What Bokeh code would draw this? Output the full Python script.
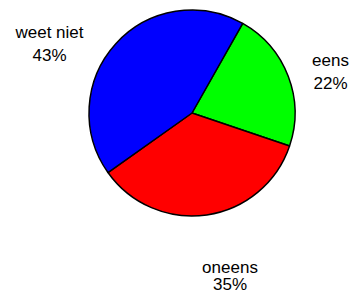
import math
from bokeh.plotting import figure
from bokeh.models import Range1d, ColumnDataSource
from bokeh.core.properties import value
from bokeh.embed import file_html
from bokeh.resources import INLINE

categories = ["eens", "oneens", "weet niet"]
percentages = [22, 35, 43]
colors = ["#00FF00", "#FF0000", "#0000FF"]

# layout (pixel coordinates of the image, y down -> negated)
cx, cy, r = 191.5, -112.5, 103
start_offset_deg = 29.5  # clockwise from 12 o'clock
label_pos = [(330, -60, -82.5), (229.5, -267, -283.5), (49, -32, -55)]

total = sum(percentages)
starts, ends = [], []
acc = start_offset_deg
for v in percentages:
    a0 = math.radians(90 - acc)
    acc += v / total * 360
    a1 = math.radians(90 - acc)
    starts.append(a0)
    ends.append(a1)

src = ColumnDataSource(dict(cat=categories, val=percentages, color=colors,
                            start=starts, end=ends))

p = figure(width=352, height=293, output_backend="svg", toolbar_location=None,
           x_range=Range1d(0, 352), y_range=Range1d(-293, 0),
           min_border=0, outline_line_color=None)
p.axis.visible = False
p.grid.visible = False

p.wedge(x=cx, y=cy, radius=r, start_angle="start", end_angle="end",
        direction="clock", fill_color="color", line_color="black",
        line_width=1.5, source=src)

lx = [lp[0] for lp in label_pos]
ly1 = [lp[1] for lp in label_pos]
ly2 = [lp[2] for lp in label_pos]
p.text(x=lx, y=ly1, text=categories, text_align="center",
       text_baseline="alphabetic", text_font=value("Liberation Sans"),
       text_font_size="17px", text_color="black")
p.text(x=lx, y=ly2, text=[f"{v}%" for v in percentages], text_align="center",
       text_baseline="alphabetic", text_font=value("Liberation Sans"),
       text_font_size="17px", text_color="black")

open("out.html", "w").write(file_html(p, INLINE))
